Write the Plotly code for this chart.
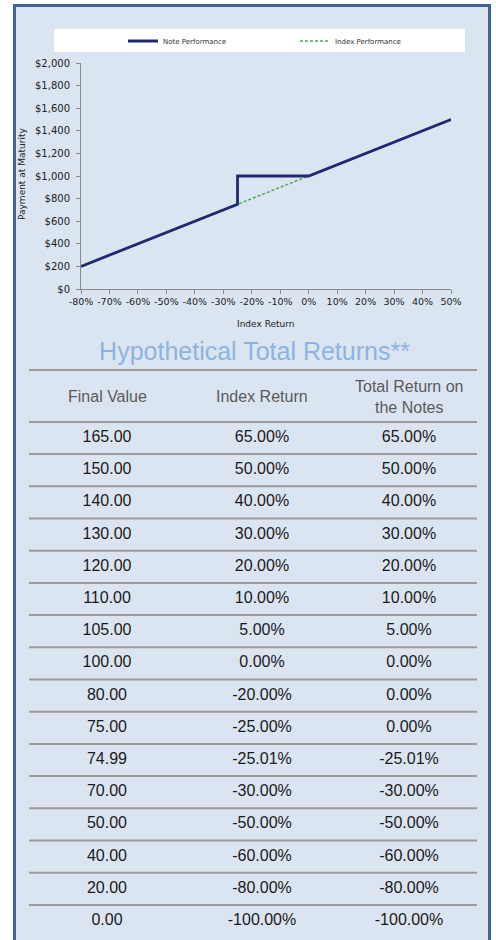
import plotly.graph_objects as go

# ---------------- chart data ----------------
chart_index_return = [-0.80, -0.2501, -0.25, 0.00, 0.50]
note_payment = [200, 749.9, 1000, 1000, 1500]
index_payment = [200, 749.9, 750, 1000, 1500]

x_tick_vals = [-0.8, -0.7, -0.6, -0.5, -0.4, -0.3, -0.2, -0.1, 0.0, 0.1, 0.2, 0.3, 0.4, 0.5]
x_tick_labels = ["-80%", "-70%", "-60%", "-50%", "-40%", "-30%", "-20%", "-10%",
                 "0%", "10%", "20%", "30%", "40%", "50%"]
y_tick_vals = [0, 200, 400, 600, 800, 1000, 1200, 1400, 1600, 1800, 2000]
y_tick_labels = ["$0", "$200", "$400", "$600", "$800", "$1,000", "$1,200",
                 "$1,400", "$1,600", "$1,800", "$2,000"]
x_axis_title = "Index Return"
y_axis_title = "Payment at Maturity"

# ---------------- table data ----------------
table_title = "Hypothetical Total Returns**"
table_headers = ["Final Value", "Index Return", "Total Return on<br>the Notes"]
final_value = [165.00, 150.00, 140.00, 130.00, 120.00, 110.00, 105.00, 100.00,
               80.00, 75.00, 74.99, 70.00, 50.00, 40.00, 20.00, 0.00]
index_return_pct = [65.00, 50.00, 40.00, 30.00, 20.00, 10.00, 5.00, 0.00,
                    -20.00, -25.00, -25.01, -30.00, -50.00, -60.00, -80.00, -100.00]
note_return_pct = [65.00, 50.00, 40.00, 30.00, 20.00, 10.00, 5.00, 0.00,
                   0.00, 0.00, -25.01, -30.00, -50.00, -60.00, -80.00, -100.00]

# ---------------- layout constants ----------------
W, H = 496, 940
ROW0_PX, ROW_H = 438.0, 32.2          # table row geometry (pixels)
COL_X = [107, 262, 409]               # table column centres (pixels)


def px(x):
    return x / W


def py(y):
    return 1 - y / H


small_font = "DejaVu Sans, Verdana, sans-serif"
table_font = "Liberation Sans, Arial, sans-serif"

fig = go.Figure()

# chart traces
fig.add_trace(go.Scatter(
    x=chart_index_return, y=index_payment, mode="lines", name="Index Performance",
    line=dict(color="#52a852", width=1.5, dash="3px,2px"), legendrank=2,
    xaxis="x", yaxis="y", hoverinfo="skip"))
fig.add_trace(go.Scatter(
    x=chart_index_return, y=note_payment, mode="lines", name="Note Performance",
    line=dict(color="#1f2872", width=2.8), legendrank=1,
    xaxis="x", yaxis="y", hoverinfo="skip"))

# table body (rows on a row-index axis)
rows = list(range(len(final_value)))
col_texts = [
    [f"{v:.2f}" for v in final_value],
    [f"{v:.2f}%" for v in index_return_pct],
    [f"{v:.2f}%" for v in note_return_pct],
]
for cx, texts in zip(COL_X, col_texts):
    fig.add_trace(go.Scatter(
        x=[cx] * len(rows), y=rows, mode="text", text=texts,
        textfont=dict(family=table_font, size=16, color="#1a1a1a"),
        xaxis="x2", yaxis="y2", showlegend=False, hoverinfo="skip"))

shapes = []
# outer frame
shapes.append(dict(type="rect", xref="paper", yref="paper",
                   x0=px(14.5), x1=px(489.5), y0=-0.05, y1=py(5.5),
                   line=dict(color="#3f6597", width=3), fillcolor="#dbe5f1", layer="below"))
# legend white box
shapes.append(dict(type="rect", xref="paper", yref="paper",
                   x0=px(54), x1=px(465), y0=py(52), y1=py(29),
                   line=dict(width=0), fillcolor="#ffffff", layer="below"))
# table separator lines
header_top = (370 - ROW0_PX) / ROW_H
line_rows = [header_top] + [r - 0.5 for r in rows]
for ly in line_rows:
    shapes.append(dict(type="line", xref="x2", yref="y2", x0=29, x1=477, y0=ly, y1=ly,
                       line=dict(color="#9c9c9c", width=2)))

annotations = []
header_row = (396.5 - ROW0_PX) / ROW_H
for cx, htxt in zip(COL_X, table_headers):
    annotations.append(dict(xref="x2", yref="y2", x=cx, y=header_row, text=htxt,
                            showarrow=False, xanchor="center", yanchor="middle",
                            font=dict(family=table_font, size=16, color="#5a5a5a")))
# axis titles
annotations.append(dict(xref="paper", yref="paper", x=px(266), y=py(324), text=x_axis_title,
                        showarrow=False, xanchor="center", yanchor="middle",
                        font=dict(family=small_font, size=9, color="#222222")))
annotations.append(dict(xref="paper", yref="paper", x=px(22), y=py(174), text=y_axis_title,
                        showarrow=False, xanchor="center", yanchor="middle", textangle=-90,
                        font=dict(family=small_font, size=9, color="#222222")))

axis_color = "#8a8a8a"
fig.update_layout(
    width=W, height=H, autosize=False,
    margin=dict(l=0, r=0, t=0, b=0, pad=0, autoexpand=False),
    paper_bgcolor="#ffffff", plot_bgcolor="rgba(0,0,0,0)",
    showlegend=True,
    legend=dict(orientation="h", x=px(123), xanchor="left", y=py(41), yanchor="middle",
                bgcolor="rgba(0,0,0,0)", entrywidth=127, entrywidthmode="pixels",
                font=dict(family=small_font, size=7, color="#333333")),
    title=dict(text=table_title, x=px(254.5), xanchor="center", xref="paper",
               y=py(351.5), yanchor="middle", yref="paper", automargin=False,
               font=dict(family=table_font, size=25, color="#8db3e2")),
    xaxis=dict(domain=[px(81), px(451)], range=[-0.8, 0.5], anchor="y", automargin=False,
               tickvals=x_tick_vals, ticktext=x_tick_labels,
               ticks="outside", ticklen=4, tickcolor=axis_color, showline=True,
               linecolor=axis_color, linewidth=1, showgrid=False, zeroline=False,
               tickfont=dict(family=small_font, size=9.5, color="#222222")),
    yaxis=dict(domain=[py(289), py(63)], range=[0, 2000], anchor="x", automargin=False,
               tickvals=y_tick_vals, ticktext=y_tick_labels, ticklabelstandoff=4,
               ticks="outside", ticklen=4, tickcolor=axis_color, showline=True,
               linecolor=axis_color, linewidth=1, showgrid=False, zeroline=False,
               tickfont=dict(family=small_font, size=10, color="#222222")),
    xaxis2=dict(domain=[0, 1], range=[0, W], visible=False, anchor="y2", automargin=False),
    yaxis2=dict(domain=[0, 1], range=[(H - ROW0_PX) / ROW_H, (0 - ROW0_PX) / ROW_H],
                visible=False, anchor="x2", automargin=False),
    shapes=shapes,
    annotations=annotations,
)

fig.write_html("out.html",
               config={"displayModeBar": False, "staticPlot": True},
               post_script="document.body.style.margin='0px';"
                           "document.body.style.overflow='hidden';")
